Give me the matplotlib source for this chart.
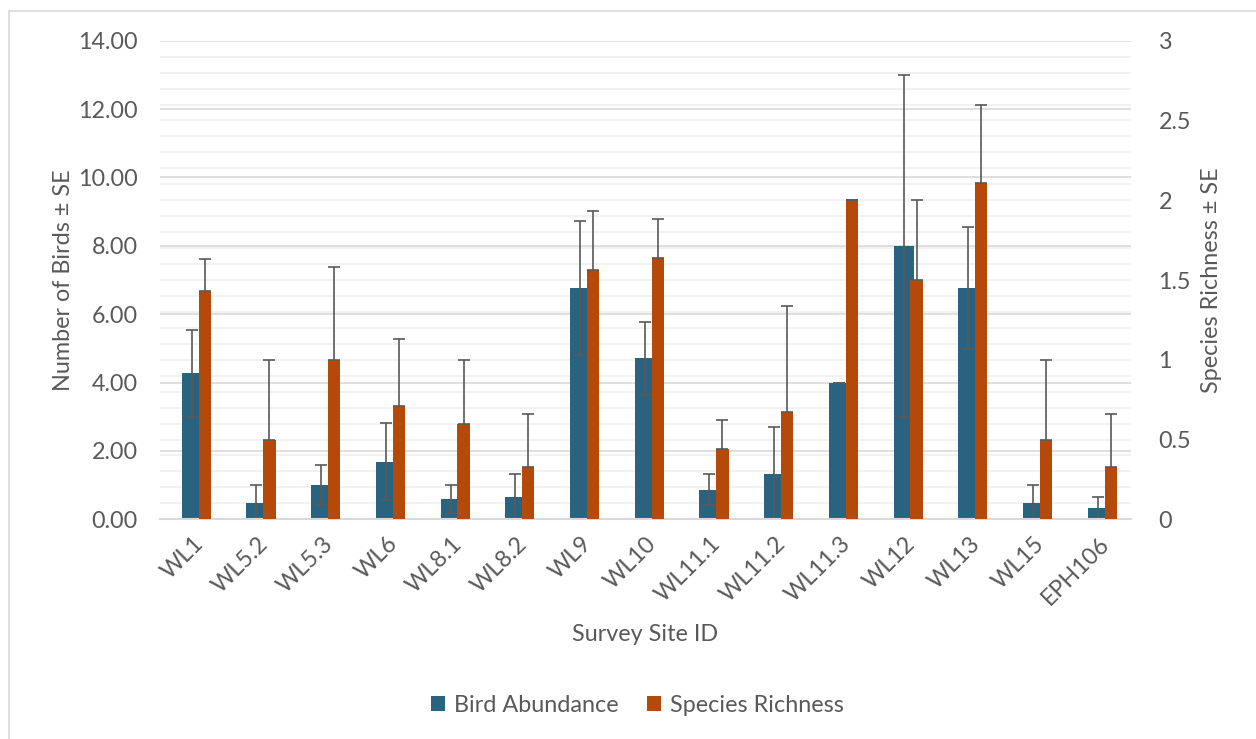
import numpy as np
import matplotlib
matplotlib.use('Agg')
from matplotlib import pyplot as plt
from matplotlib.ticker import MultipleLocator, FormatStrFormatter
from matplotlib.patches import Rectangle

sites = ['WL1', 'WL5.2', 'WL5.3', 'WL6', 'WL8.1', 'WL8.2', 'WL9', 'WL10',
         'WL11.1', 'WL11.2', 'WL11.3', 'WL12', 'WL13', 'WL15', 'EPH106']
abundance = [4.27, 0.47, 1.0, 1.69, 0.59, 0.64, 6.77, 4.71, 0.87, 1.33, 4.0, 8.0, 6.77, 0.47, 0.32]
abundance_se = [1.27, 0.52, 0.58, 1.14, 0.4, 0.68, 1.95, 1.06, 0.45, 1.36, 0.0, 5.0, 1.78, 0.52, 0.33]
richness = [1.43, 0.5, 1.0, 0.71, 0.6, 0.33, 1.56, 1.64, 0.44, 0.67, 2.0, 1.5, 2.11, 0.5, 0.33]
richness_se = [0.2, 0.5, 0.58, 0.42, 0.4, 0.33, 0.37, 0.24, 0.18, 0.67, 0.0, 0.5, 0.49, 0.5, 0.33]

BLUE = '#29637F'
ORANGE = '#B5490A'
TEXT = '#595959'
GRID = '#D9D9D9'
MINOR = '#F0F0F0'

plt.rcParams['font.family'] = ['Lato', 'DejaVu Sans']
plt.rcParams['font.size'] = 16.8

fig = plt.figure(figsize=(12.56, 7.39), dpi=100)
ax = fig.add_axes([0.1274, 0.2973, 0.7729, 0.6476])
ax2 = ax.twinx()

x = np.arange(len(sites))
b1 = ax.bar(x - 0.01, abundance, width=0.31, color=BLUE, label='Bird Abundance', zorder=2)
ax.errorbar(x - 0.01, abundance, yerr=abundance_se, fmt='none', ecolor=TEXT,
            elinewidth=1.2, capsize=4, capthick=1.2, zorder=3)
b2 = ax2.bar(x + 0.19, richness, width=0.19, color=ORANGE, label='Species Richness', zorder=2)
ax2.errorbar(x + 0.19, richness, yerr=[np.zeros(len(richness)), richness_se], fmt='none',
             ecolor=TEXT, elinewidth=1.2, capsize=4, capthick=1.2, zorder=3)

ax.set_xlim(-0.5, len(sites) - 0.5)
ax.set_ylim(0, 14)
ax2.set_ylim(0, 3)
ax.yaxis.set_major_locator(MultipleLocator(2))
ax.yaxis.set_major_formatter(FormatStrFormatter('%.2f'))
ax.yaxis.set_minor_locator(MultipleLocator(14 / 30))
ax2.yaxis.set_major_locator(MultipleLocator(0.5))
ax2.yaxis.set_major_formatter(lambda v, p: f'{v:g}')

ax.set_axisbelow(True)
ax.grid(axis='y', which='minor', color=MINOR, lw=1.2)
ax.grid(axis='y', which='major', color=GRID, lw=1.2)
ax2.patch.set_visible(False)

for a in (ax, ax2):
    for s in a.spines.values():
        s.set_visible(False)
    a.tick_params(axis='both', which='both', length=0, colors=TEXT)
ax.spines['bottom'].set_visible(True)
ax.spines['bottom'].set_color(GRID)
ax.spines['bottom'].set_linewidth(1.5)
ax.spines['bottom'].set_zorder(4)
ax.tick_params(axis='y', pad=16)
ax2.tick_params(axis='y', pad=20)

ax.set_xticks(x)
ax.set_xticklabels(sites, rotation=45, ha='right', va='top', rotation_mode='anchor')
ax.tick_params(axis='x', pad=10)

ax.set_xlabel('Survey Site ID', color=TEXT, va='center')
ax.xaxis.set_label_coords(0.5, -0.2397)
ax.set_ylabel('Number of Birds \u00b1 SE', color=TEXT, va='center')
ax.yaxis.set_label_coords(-0.099, 0.5)
ax2.set_ylabel('Species Richness \u00b1 SE', color=TEXT, va='center', rotation=90)
ax2.yaxis.set_label_coords(1.0827, 0.5)

fig.legend([b1, b2], ['Bird Abundance', 'Species Richness'], loc='center',
           bbox_to_anchor=(0.5076, 0.046), ncol=2, frameon=False, labelcolor=TEXT,
           handlelength=0.6, handleheight=0.6, handletextpad=0.4, columnspacing=1.2)

fig.patches.append(Rectangle((8.5 / 1256, -0.05), 1.2, 1 - 11 / 739 + 0.05,
                             transform=fig.transFigure, fill=False, ec=GRID, lw=1.2))

fig.savefig('out.png', dpi=100)
